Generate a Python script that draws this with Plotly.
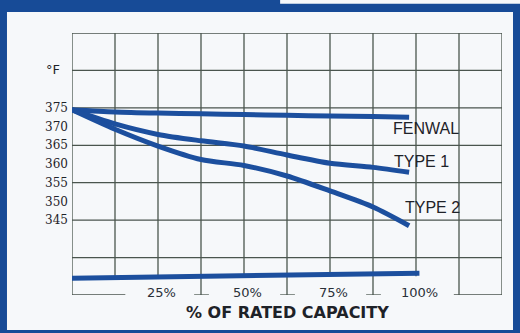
import plotly.graph_objects as go

# ---- data ----
pct = [0, 12.5, 25, 37.5, 50, 62.5, 75, 87.5, 98]
fenwal = [374.5, 373.9, 373.6, 373.4, 373.2, 373.0, 372.8, 372.7, 372.5]
type1 = [374.5, 370.7, 367.9, 366.2, 364.8, 362.4, 360.2, 359.1, 357.8]
type2 = [374.5, 369.3, 364.8, 361.2, 359.6, 356.8, 352.8, 348.5, 343.5]
base_x = [0, 101]
base_y = [329.5, 330.8]

series_names = ["FENWAL", "TYPE 1", "TYPE 2"]
label_x = [102.9, 101.7, 104.7]
label_y = [369.4, 360.6, 348.3]

y_ticks = [345, 350, 355, 360, 365, 370, 375]
x_labels = [25, 50, 75, 100]
x_label_text = ["25%", "50%", "75%", "100%"]
grid_x = [12.5, 25, 37.5, 50, 62.5, 75, 87.5, 100, 112.5]
grid_x_full = [37.5, 62.5, 87.5, 112.5]
grid_y = [335, 345, 355, 365, 375, 385]
x_min, x_max = 0, 125
y_min, y_max = 325, 395

BLUE = "#174b97"
LINE = "#1c4f9e"
GRID = "#4a554e"
PANEL = "#f6f8fa"
INK = "#1e2228"

fig = go.Figure()
for name, ys in zip(series_names, [fenwal, type1, type2]):
    fig.add_trace(go.Scatter(x=pct, y=ys, mode="lines", name=name,
                             line=dict(color=LINE, width=5, shape="spline", smoothing=0.8)))
fig.add_trace(go.Scatter(x=base_x, y=base_y, mode="lines", name="base",
                         line=dict(color=LINE, width=5)))

shapes = []
# panel
shapes.append(dict(type="rect", xref="paper", yref="paper", x0=-0.1512, x1=1.0256,
                   y0=-0.1336, y1=1.0802, fillcolor=PANEL, line=dict(width=0), layer="below"))
shapes.append(dict(type="rect", xref="paper", yref="paper", x0=0.484, x1=1.2,
                   y0=1.112, y1=1.2, fillcolor=PANEL, line=dict(width=0), layer="below"))
gl = dict(color=GRID, width=1.3)
for gx in grid_x:
    y_bottom = y_min if gx in grid_x_full else 330
    shapes.append(dict(type="line", xref="x", yref="y", x0=gx, x1=gx, y0=y_bottom, y1=y_max,
                       line=gl, layer="below"))
for gy in grid_y:
    shapes.append(dict(type="line", xref="x", yref="y", x0=x_min, x1=x_max, y0=gy, y1=gy,
                       line=gl, layer="below"))
# frame
for (x0, x1, y0, y1) in [(x_min, x_max, y_max, y_max), (x_min, x_min, y_min, y_max),
                         (x_max, x_max, y_min, y_max), (x_min, 15.5, y_min, y_min),
                         (35.5, 39.8, y_min, y_min), (60.5, 64.8, y_min, y_min),
                         (85.5, 89.8, y_min, y_min), (111, x_max, y_min, y_min)]:
    shapes.append(dict(type="line", xref="x", yref="y", x0=x0, x1=x1, y0=y0, y1=y1,
                       line=gl, layer="below"))

ann = []
for name, lx, ly in zip(series_names, label_x, label_y):
    ann.append(dict(x=lx, y=ly, xref="x", yref="y", text=name, showarrow=False,
                    font=dict(family="Liberation Sans", size=16, color=INK)))
for xv, t in zip(x_labels, x_label_text):
    ann.append(dict(x=xv, y=y_min, xref="x", yref="y", text=t, showarrow=False, xshift=3, yshift=3,
                    font=dict(family="DejaVu Sans", size=13, color="#2a3038")))
ann.append(dict(x=62.5, y=-0.065, xref="x", yref="paper", xanchor="center", yanchor="middle",
                text="% OF RATED CAPACITY", showarrow=False,
                font=dict(family="DejaVu Sans", size=16, color=INK, weight="bold")))
ann.append(dict(x=-0.044, y=385.3, xref="paper", yref="y", xanchor="center", yanchor="middle",
                text="°F", showarrow=False,
                font=dict(family="DejaVu Sans", size=13, color=INK)))

fig.update_layout(
    width=520, height=333,
    margin=dict(l=72, r=18, t=33, b=38),
    paper_bgcolor=BLUE, plot_bgcolor=PANEL,
    showlegend=False,
    shapes=shapes, annotations=ann,
    xaxis=dict(range=[x_min, x_max], showgrid=False, zeroline=False, showticklabels=False,
               ticks="", showline=False, fixedrange=True),
    yaxis=dict(range=[y_min, y_max], showgrid=False, zeroline=False, tickvals=y_ticks,
               ticks="", showline=False, tickfont=dict(family="DejaVu Serif", size=12, color=INK),
               ticklabelstandoff=3, fixedrange=True),
)
fig.write_html("out.html", config={"displayModeBar": False},
               post_script="document.body.style.margin='0';document.body.style.overflow='hidden';")
